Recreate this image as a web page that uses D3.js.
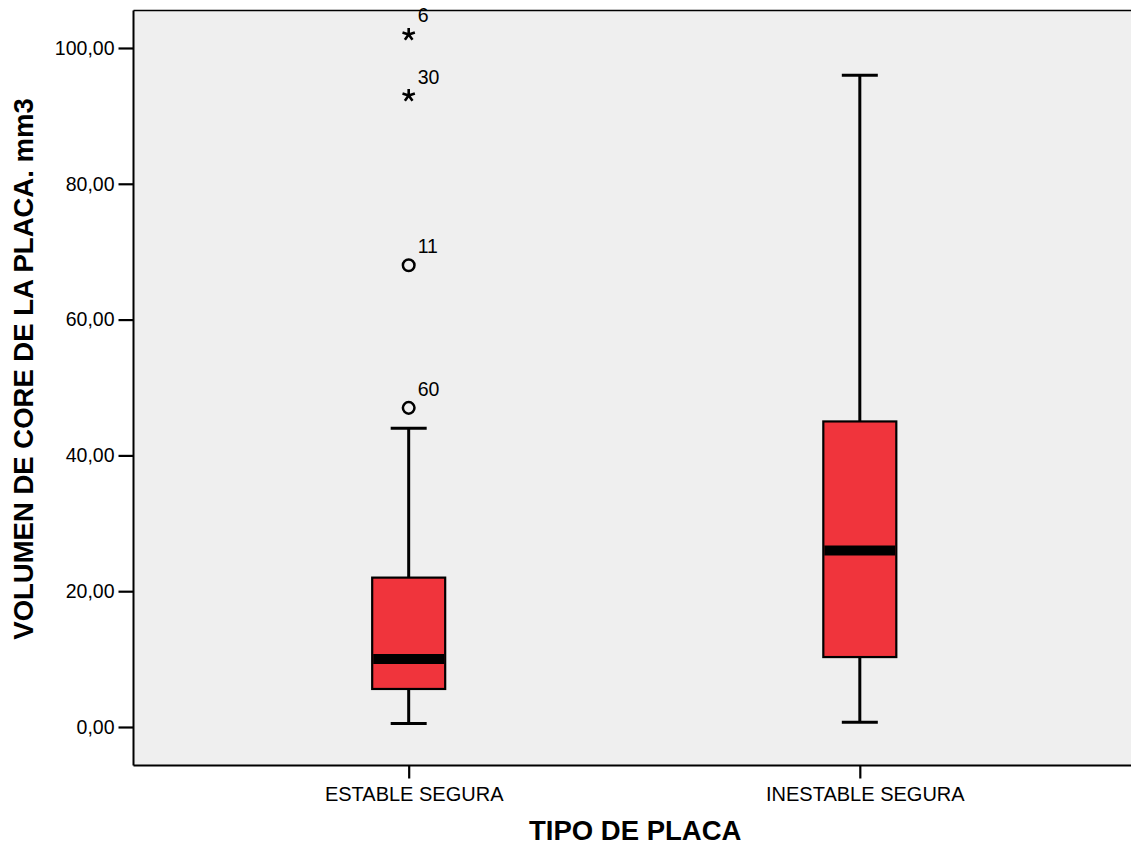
<!DOCTYPE html>
<html>
<head>
<meta charset="utf-8">
<script src="https://cdn.jsdelivr.net/npm/d3@7"></script>
<style>
  html, body { margin: 0; padding: 0; background: #ffffff; }
  svg { display: block; }
  text { font-family: "Liberation Sans", Arial, sans-serif; fill: #000; }
</style>
</head>
<body>
<svg id="chart" width="1131" height="845"></svg>
<script>
// Box plot: core volume by plaque type
const categories = ["ESTABLE SEGURA", "INESTABLE SEGURA"];
const whiskerLow  = [0.5, 0.7];
const quartile1   = [5.6, 10.3];
const medians     = [10.0, 26.0];
const quartile3   = [22.0, 45.0];
const whiskerHigh = [44.0, 96.0];

// Outlying cases (case number, value, kind)
const outlierGroup = ["ESTABLE SEGURA", "ESTABLE SEGURA", "ESTABLE SEGURA", "ESTABLE SEGURA"];
const outlierCase  = ["6", "30", "11", "60"];
const outlierValue = [102, 93, 68, 47];
const outlierKind  = ["extreme", "extreme", "outlier", "outlier"];

const yTicks = [0, 20, 40, 60, 80, 100];
const yTitle = "VOLUMEN DE CORE DE LA PLACA. mm3";
const xTitle = "TIPO DE PLACA";

const svg = d3.select("#chart");
const plot = { left: 133.5, right: 1135, top: 10.5, bottom: 765.5 };
const labelSize = 19.5;

const x = d3.scalePoint()
  .domain(categories)
  .range([plot.left, plot.right])
  .padding(0.61);

const y = d3.scaleLinear()
  .domain([-5.67, 105.52])
  .range([plot.bottom, plot.top]);

// plot background
svg.append("rect")
  .attr("x", plot.left).attr("y", plot.top)
  .attr("width", plot.right - plot.left)
  .attr("height", plot.bottom - plot.top)
  .attr("fill", "#efefef");

// frame: top line and left/bottom axes
svg.append("line")
  .attr("x1", plot.left).attr("x2", plot.right)
  .attr("y1", plot.top).attr("y2", plot.top)
  .attr("stroke", "#000").attr("stroke-width", 1.5);

const yAxis = d3.axisLeft(y)
  .tickValues(yTicks)
  .tickSize(15)
  .tickPadding(4)
  .tickFormat(d => d3.format(".2f")(d).replace(".", ","));

const gy = svg.append("g")
  .attr("transform", `translate(${plot.left},0)`)
  .call(yAxis);
gy.select(".domain").attr("stroke", "#000").attr("stroke-width", 2)
  .attr("d", `M0,${plot.top}V${plot.bottom}`);
gy.selectAll(".tick line").attr("stroke", "#000").attr("stroke-width", 2.2);
gy.selectAll(".tick text")
  .attr("font-size", labelSize)
  .attr("font-family", "Liberation Sans, Arial, sans-serif")
  .attr("fill", "#000");

const xAxis = d3.axisBottom(x)
  .tickSize(13)
  .tickPadding(8);

const gx = svg.append("g")
  .attr("transform", `translate(0,${plot.bottom})`)
  .call(xAxis);
gx.select(".domain").attr("stroke", "#000").attr("stroke-width", 2)
  .attr("d", `M${plot.left},0H${plot.right}`);
gx.selectAll(".tick line").attr("stroke", "#000").attr("stroke-width", 2.2);
gx.selectAll(".tick text")
  .attr("font-size", 20)
  .attr("dx", 5)
  .attr("font-family", "Liberation Sans, Arial, sans-serif")
  .attr("fill", "#000");

// boxes
const boxW = 73, capW = 36;
const boxes = categories.map((c, i) => ({
  cat: c, lo: whiskerLow[i], q1: quartile1[i], med: medians[i],
  q3: quartile3[i], hi: whiskerHigh[i]
}));

const g = svg.append("g");
const bg = g.selectAll("g.box").data(boxes).join("g").attr("class", "box");

// whisker stems
bg.append("line")
  .attr("x1", d => x(d.cat)).attr("x2", d => x(d.cat))
  .attr("y1", d => y(d.hi)).attr("y2", d => y(d.q3))
  .attr("stroke", "#000").attr("stroke-width", 3);
bg.append("line")
  .attr("x1", d => x(d.cat)).attr("x2", d => x(d.cat))
  .attr("y1", d => y(d.q1)).attr("y2", d => y(d.lo))
  .attr("stroke", "#000").attr("stroke-width", 3);
// whisker caps
bg.append("line")
  .attr("x1", d => x(d.cat) - capW / 2).attr("x2", d => x(d.cat) + capW / 2)
  .attr("y1", d => y(d.hi)).attr("y2", d => y(d.hi))
  .attr("stroke", "#000").attr("stroke-width", 3);
bg.append("line")
  .attr("x1", d => x(d.cat) - capW / 2).attr("x2", d => x(d.cat) + capW / 2)
  .attr("y1", d => y(d.lo)).attr("y2", d => y(d.lo))
  .attr("stroke", "#000").attr("stroke-width", 3);
// box body
bg.append("rect")
  .attr("x", d => x(d.cat) - boxW / 2)
  .attr("y", d => y(d.q3))
  .attr("width", boxW)
  .attr("height", d => y(d.q1) - y(d.q3))
  .attr("fill", "#f0343c")
  .attr("stroke", "#000").attr("stroke-width", 2.2);
// median band
bg.append("line")
  .attr("x1", d => x(d.cat) - boxW / 2 + 1).attr("x2", d => x(d.cat) + boxW / 2 - 1)
  .attr("y1", d => y(d.med)).attr("y2", d => y(d.med))
  .attr("stroke", "#000").attr("stroke-width", 10);

// outliers
const outliers = outlierCase.map((c, i) => ({
  cat: outlierGroup[i], id: c, v: outlierValue[i], kind: outlierKind[i]
}));

function asteriskPath(r) {
  let p = "";
  for (let k = 0; k < 5; k++) {
    const a = -Math.PI / 2 + k * 2 * Math.PI / 5;
    p += `M0,0L${(r * Math.cos(a)).toFixed(2)},${(r * Math.sin(a)).toFixed(2)}`;
  }
  return p;
}

const og = g.selectAll("g.out").data(outliers).join("g")
  .attr("class", "out")
  .attr("transform", d => `translate(${x(d.cat)},${y(d.v)})`);

og.filter(d => d.kind === "outlier").append("circle")
  .attr("r", 5.8)
  .attr("fill", "none")
  .attr("stroke", "#000").attr("stroke-width", 2.5);

og.filter(d => d.kind === "extreme").append("path")
  .attr("d", asteriskPath(6.5))
  .attr("fill", "none")
  .attr("stroke", "#000").attr("stroke-width", 2.6)
  .attr("stroke-linecap", "butt");

og.append("text")
  .attr("x", 9).attr("y", -12)
  .attr("font-size", labelSize)
  .text(d => d.id);

// axis titles
svg.append("text")
  .attr("x", (plot.left + 1131) / 2 + 3)
  .attr("y", 840)
  .attr("text-anchor", "middle")
  .attr("font-size", 27.5)
  .attr("font-weight", "bold")
  .text(xTitle);

svg.append("text")
  .attr("transform", `translate(33,${369}) rotate(-90)`)
  .attr("text-anchor", "middle")
  .attr("font-size", 27.5)
  .attr("font-weight", "bold")
  .text(yTitle);
</script>
</body>
</html>
